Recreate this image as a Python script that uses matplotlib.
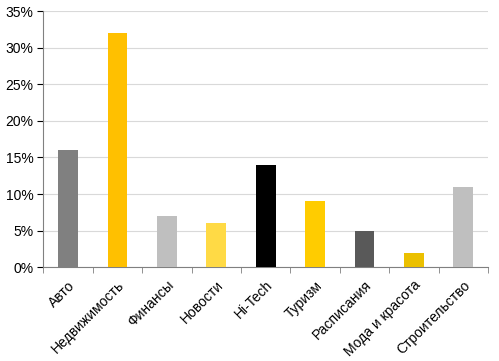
import matplotlib
matplotlib.use('Agg')
from matplotlib import pyplot as plt
from matplotlib.ticker import FuncFormatter, MultipleLocator, FixedLocator
import numpy as np

categories = ['Авто', 'Недвижимость', 'Финансы', 'Новости', 'Hi-Tech',
              'Туризм', 'Расписания', 'Мода и красота', 'Строительство']
values = [16, 32, 7, 6, 14, 9, 5, 2, 11]
colors = ['#808080', '#FFC000', '#BFBFBF', '#FFDA45', '#000000',
          '#FFCC00', '#595959', '#EBC000', '#BFBFBF']

plt.rcParams['font.family'] = ['Liberation Sans', 'DejaVu Sans']

fig = plt.figure(figsize=(4.99, 3.61), dpi=100)
ax = fig.add_axes([0.087, 0.26, 0.891, 0.709])

x = np.arange(len(categories))
ax.bar(x, values, width=0.4, color=colors, zorder=3)

ax.set_ylim(0, 35)
ax.set_xlim(-0.5, len(categories) - 0.5)
ax.yaxis.set_major_locator(MultipleLocator(5))
ax.yaxis.set_major_formatter(FuncFormatter(lambda v, p: '%d%%' % v))
ax.grid(axis='y', color='#D9D9D9', linewidth=0.8, zorder=0)

# category labels at centers, tick marks between categories
ax.set_xticks(x)
ax.set_xticklabels(categories, rotation=45, ha='right', rotation_mode='anchor')
ax.tick_params(axis='x', length=0, pad=8)
ax.xaxis.set_minor_locator(FixedLocator(np.arange(-0.5, len(categories), 1)))
ax.tick_params(axis='x', which='minor', length=4, color='#808080')
ax.tick_params(axis='y', length=4, color='#808080')
ax.tick_params(labelsize=10, colors='#000000')
ax.tick_params(axis='y', pad=3)

for s in ['top', 'right']:
    ax.spines[s].set_visible(False)
for s in ['left', 'bottom']:
    ax.spines[s].set_color('#808080')
    ax.spines[s].set_linewidth(0.8)

fig.savefig('out.png', dpi=100)
